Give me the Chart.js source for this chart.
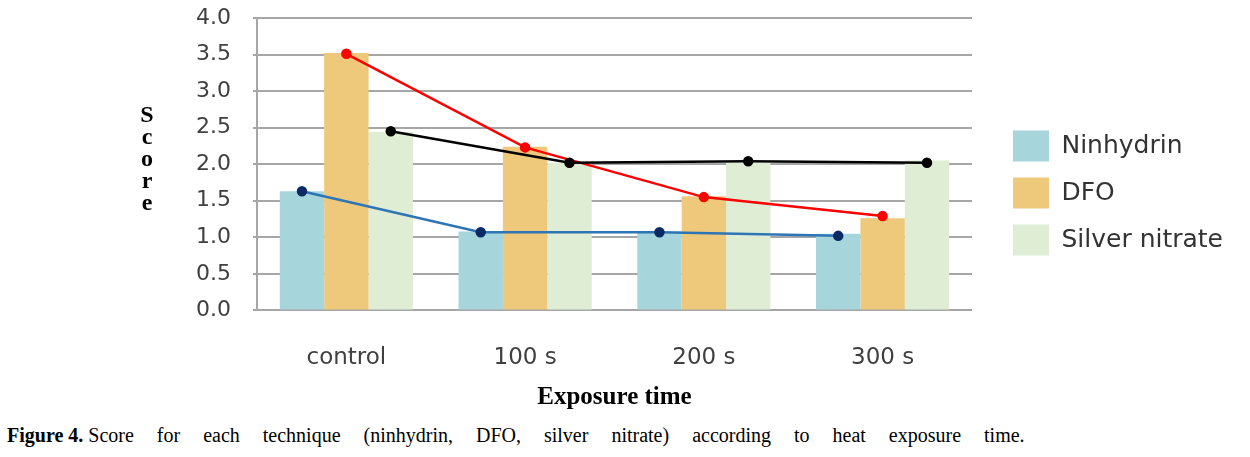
<!DOCTYPE html>
<html>
<head>
<meta charset="utf-8">
<script src="https://cdn.jsdelivr.net/npm/chart.js@4.4.0/dist/chart.umd.min.js"></script>
<style>
    body { margin: 0; background: #fff; width: 1250px; height: 457px; overflow: hidden; position: relative; }
    #chart-box { position: absolute; left: 0; top: 0; width: 1250px; height: 420px; }
    #score-label { position: absolute; left: 137px; top: 103px; width: 20px; text-align: center;
        font: bold 24px "Liberation Serif", serif; line-height: 22px; color: #000; }
    #caption { position: absolute; left: 7px; top: 424px; white-space: nowrap;
        font: 20px "Liberation Serif", serif; color: #000; word-spacing: 18px; }
    #caption b { word-spacing: 0; }
</style>
</head>
<body>
<div id="chart-box"><canvas id="score-chart"></canvas></div>
<div id="score-label">S<br>c<br>o<br>r<br>e</div>
<div id="caption"><b>Figure 4. </b>Score for each technique (ninhydrin, DFO, silver nitrate) according to heat exposure time.</div>
<script>
const categories = ['control', '100 s', '200 s', '300 s'];
const yTicks = [0, 0.5, 1, 1.5, 2, 2.5, 3, 3.5, 4];

// bar heights
const ninhydrinBars = [1.63, 1.08, 1.08, 1.05];
const dfoBars = [3.52, 2.24, 1.56, 1.26];
const silverBars = [2.44, 2.02, 2.02, 2.05];

// trend lines drawn over the bars
const ninhydrinLine = [1.63, 1.07, 1.07, 1.02];
const dfoLine = [3.51, 2.23, 1.55, 1.29];
const silverLine = [2.45, 2.02, 2.04, 2.02];

// each line dataset index -> the bar dataset whose centres it passes through
const linePairs = [[3, 0], [4, 2], [5, 1]];

// move line points onto the centre of their bar (bar x comes from Chart.js)
const snapLinesToBars = {
    id: 'snapLinesToBars',
    afterDatasetsUpdate(chart) {
        linePairs.forEach(([lineIdx, barIdx]) => {
            const bars = chart.getDatasetMeta(barIdx).data;
            chart.getDatasetMeta(lineIdx).data.forEach((pt, i) => { pt.x = bars[i].x; });
        });
    }
};

const legendNudge = {
    id: 'legendNudge',
    beforeUpdate(chart) {
        const legend = chart.legend;
        if (legend && !legend._nudged) {
            const fit = legend.fit;
            legend.fit = function () { fit.call(this); this.width += 25; };
            legend._nudged = true;
        }
    },
    afterLayout(chart) {
        const legend = chart.legend;
        legend.left += 25;
        legend.top -= 11;
        legend.bottom -= 11;
    }
};

new Chart(document.getElementById('score-chart').getContext('2d'), {
    type: 'bar',
    data: {
        labels: categories,
        datasets: [
            { label: 'Ninhydrin', data: ninhydrinBars, backgroundColor: '#A6D6DC', borderWidth: 0, order: 1 },
            { label: 'DFO', data: dfoBars, backgroundColor: '#EEC97C', borderWidth: 0, order: 1 },
            { label: 'Silver nitrate', data: silverBars, backgroundColor: '#E0EDD5', borderWidth: 0, order: 1 },
            { type: 'line', label: 'n-line', data: ninhydrinLine,
              borderColor: '#2E75B6', borderWidth: 2.5, pointRadius: 4, pointBackgroundColor: '#0B2A66',
              pointBorderColor: '#0B2A66', tension: 0, order: 0 },
            { type: 'line', label: 's-line', data: silverLine,
              borderColor: '#000000', borderWidth: 2.5, pointRadius: 4, pointBackgroundColor: '#000000',
              pointBorderColor: '#000000', tension: 0, order: 0 },
            { type: 'line', label: 'd-line', data: dfoLine,
              borderColor: '#FF0000', borderWidth: 2.5, pointRadius: 4, pointBackgroundColor: '#FF0000',
              pointBorderColor: '#FF0000', tension: 0, order: 0 }
        ]
    },
    options: {
        responsive: true,
        maintainAspectRatio: false,
        animation: false,
        datasets: { bar: { barPercentage: 1, categoryPercentage: 0.745 } },
        layout: { padding: { left: 174, right: 17, top: -9, bottom: 3 } },
        scales: {
            x: {
                grid: { display: false, drawTicks: false },
                border: { color: '#A6A6A6', width: 2 },
                ticks: { color: '#404040', font: { family: 'DejaVu Sans', size: 23 }, padding: 34, maxRotation: 0 },
                title: { display: true, text: 'Exposure time', color: '#000',
                    font: { family: 'Liberation Serif', size: 25, weight: 'bold' }, padding: { top: -23, bottom: 4 } }
            },
            y: {
                min: 0,
                max: 4,
                afterBuildTicks: axis => { axis.ticks = yTicks.map(v => ({ value: v })); },
                afterFit: axis => { axis.paddingTop = 18; },
                ticks: { color: '#404040', font: { family: 'DejaVu Sans', size: 22 }, padding: 22,
                    callback: value => value.toFixed(1) },
                grid: { color: '#A6A6A6', lineWidth: 2, tickLength: 4 },
                border: { color: '#A6A6A6', width: 2 }
            }
        },
        plugins: {
            legend: {
                position: 'right',
                labels: {
                    boxWidth: 36, boxHeight: 31, padding: 16, color: '#333333',
                    font: { family: 'DejaVu Sans', size: 25 },
                    filter: item => item.datasetIndex < 3
                }
            },
            tooltip: { enabled: false }
        }
    },
    plugins: [snapLinesToBars, legendNudge]
});
</script>
</body>
</html>
